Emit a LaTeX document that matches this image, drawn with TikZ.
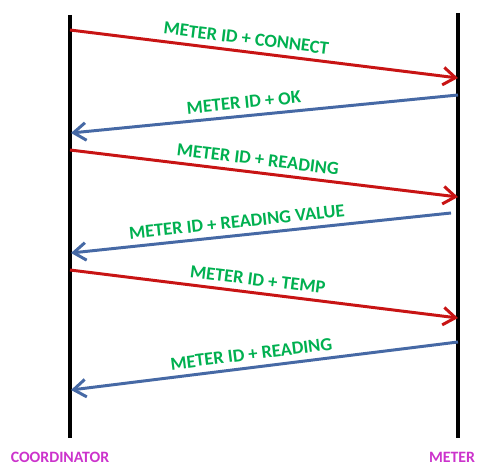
\documentclass[tikz,border=0pt]{standalone}
\usepackage{fontspec}
\setmainfont{Carlito}
\usetikzlibrary{arrows.meta}
\definecolor{msgred}{RGB}{200,20,20}
\definecolor{msgblue}{RGB}{70,105,165}
\definecolor{lblgreen}{RGB}{0,176,80}
\definecolor{rolemag}{RGB}{204,51,204}
\tikzset{
  lifeline/.style={line width=1.8pt,black},
  request/.style={line width=1.7pt,msgred,-{Straight Barb[length=7pt,width=10pt]}},
  reply/.style={line width=1.7pt,msgblue,-{Straight Barb[length=7pt,width=10pt]}},
  msglabel/.style={sloped,above,text=lblgreen,font=\bfseries\fontsize{10.5}{12}\selectfont},
  rolelabel/.style={text=rolemag,font=\bfseries\fontsize{9}{10}\selectfont,anchor=north,inner sep=1pt}
}
\begin{document}
\begin{tikzpicture}[x=0.02cm,y=-0.02cm]
  \useasboundingbox (0,0) rectangle (477,465);
  % lifelines
  \coordinate (ctop) at (70,15);
  \coordinate (cbot) at (70,438);
  \coordinate (mtop) at (458,13);
  \coordinate (mbot) at (458,438);
  \draw[lifeline] (ctop) -- (cbot);
  \draw[lifeline] (mtop) -- (mbot);
  % message ends
  \coordinate (c1) at (70,30);   \coordinate (m1) at (458,78);
  \coordinate (m2) at (458,95);  \coordinate (c2) at (71,133);
  \coordinate (c3) at (70,150);  \coordinate (m3) at (458,197);
  \coordinate (m4) at (451,213); \coordinate (c4) at (71,253);
  \coordinate (c5) at (70,270);  \coordinate (m5) at (458,318);
  \coordinate (m6) at (458,342); \coordinate (c6) at (71,390);
  % messages
  \draw[request] (c1) -- node[msglabel,pos=0.45] {METER ID + CONNECT} (m1);
  \draw[reply] (m2) -- node[msglabel,pos=0.55] {METER ID + OK} (c2);
  \draw[request] (c3) -- node[msglabel,pos=0.48] {METER ID + READING} (m3);
  \draw[reply] (m4) -- node[msglabel,pos=0.56] {METER ID + READING VALUE} (c4);
  \draw[request] (c5) -- node[msglabel,pos=0.48] {METER ID + TEMP} (m5);
  \draw[reply] (m6) -- node[msglabel,pos=0.53] {METER ID + READING} (c6);
  \path (60,450) node[rolelabel] {COORDINATOR};
  \path (452,450) node[rolelabel] {METER};
\end{tikzpicture}
\end{document}
